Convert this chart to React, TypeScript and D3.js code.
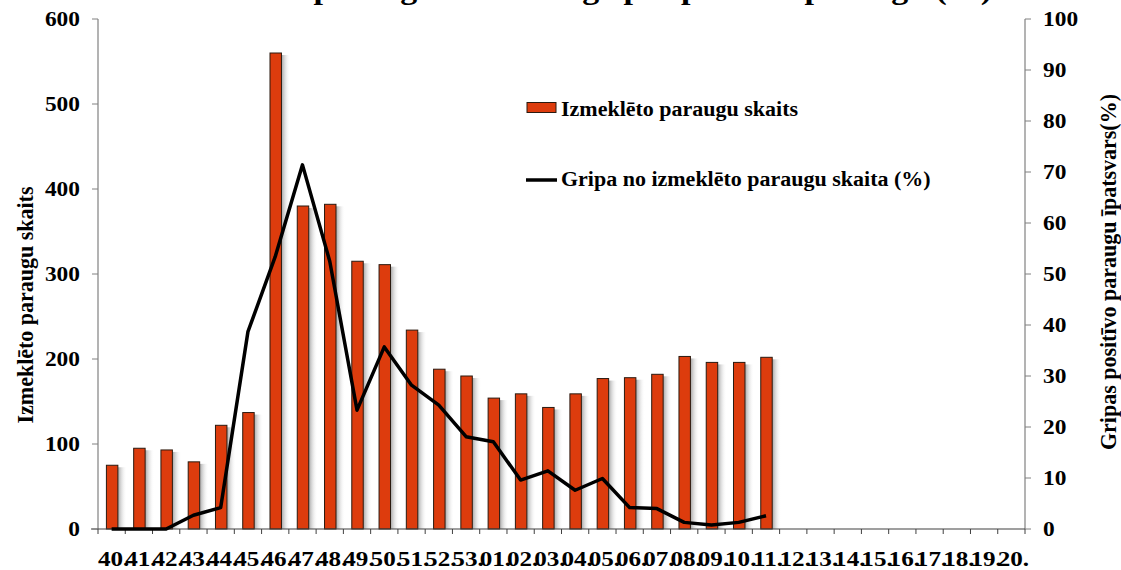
import React from "react";
import * as d3 from "d3";

const categories = ["40.","41.","42.","43.","44.","45.","46.","47.","48.","49.","50.","51.","52.","53.","01.","02.","03.","04.","05.","06.","07.","08.","09.","10.","11.","12.","13.","14.","15.","16.","17.","18.","19.","20."];
const samples = [75,95,93,79,122,137,560,380,382,315,311,234,188,180,154,159,143,159,177,178,182,203,196,196,202];
const fluPct = [0,0,0,2.7,4.2,38.7,53.4,71.4,52.5,23.3,35.7,28.2,24.3,18.1,17.1,9.6,11.4,7.6,9.9,4.2,4.0,1.3,0.8,1.3,2.6];
const leftTicks = [0,100,200,300,400,500,600];
const rightTicks = [0,10,20,30,40,50,60,70,80,90,100];

const W = 1121, H = 570;
const L = 98, R = 1025, T = 19, B = 529;
const FONT = "'Liberation Serif', 'Times New Roman', serif";
const BAR = "#DD3C0D";
const SX = 1.17;

function Txt(props: { x: number; y: number; size: number; sx?: number; sy?: number; anchor?: string; rot?: number; children: React.ReactNode }) {
  const { x, y, size, sx = SX, sy = 1, anchor = "start", rot, children } = props;
  const tr = `translate(${x},${y})${rot ? ` rotate(${rot})` : ""} scale(${sx},${sy})`;
  return (
    <text transform={tr} textAnchor={anchor} fontSize={size} fontWeight="bold" fill="#000">{children}</text>
  );
}

export default function App() {
  const x = d3.scaleBand<string>().domain(categories).range([L, R]).paddingInner(0).paddingOuter(0);
  const yL = d3.scaleLinear().domain([0, 600]).range([B, T]);
  const yR = d3.scaleLinear().domain([0, 100]).range([B, T]);
  const bw = x.bandwidth() * 0.42;
  const cx = (i: number) => (x(categories[i]) as number) + x.bandwidth() / 2;
  const line = d3.line<number>().x((_, i) => cx(i)).y(d => yR(d));

  return (
    <svg width={W} height={H} style={{ position: "absolute", left: 0, top: 0, background: "#fff" }} fontFamily={FONT}>
      <defs>
        <linearGradient id="shadow" x1="0" x2="1" y1="0" y2="0">
          <stop offset="0" stopColor="#9a9a9a" stopOpacity="0.9" />
          <stop offset="1" stopColor="#ffffff" stopOpacity="0" />
        </linearGradient>
      </defs>
      <rect x={0} y={0} width={W} height={H} fill="#fff" />
      <Txt x={992} y={-1} size={29} anchor="end">Izmeklēto paraugu skaits un gripas pozitīvo paraugu (%)</Txt>

      {/* bars */}
      {samples.map((v, i) => {
        const x0 = cx(i) - bw / 2 + 0.5;
        return (
          <g key={i}>
            <rect x={x0 + bw} y={yL(v) + 2} width={9} height={B - yL(v) - 2} fill="url(#shadow)" />
            <rect x={x0} y={yL(v)} width={bw} height={B - yL(v)} fill={BAR} stroke="#2a1a10" strokeWidth={1} />
          </g>
        );
      })}

      {/* axes */}
      <line x1={L} x2={L} y1={T} y2={B} stroke="#808080" strokeWidth={1.2} />
      <line x1={R} x2={R} y1={T} y2={B} stroke="#808080" strokeWidth={1.2} />
      <line x1={L - 7} x2={R} y1={B} y2={B} stroke="#404040" strokeWidth={1.2} />
      {leftTicks.map(t => (
        <g key={"l" + t}>
          <line x1={L - 6} x2={L} y1={yL(t)} y2={yL(t)} stroke="#808080" />
          <Txt x={80} y={yL(t) + 7} size={20} anchor="end">{t}</Txt>
        </g>
      ))}
      {rightTicks.map(t => (
        <g key={"r" + t}>
          <line x1={R} x2={R + 6} y1={yR(t)} y2={yR(t)} stroke="#808080" />
          <Txt x={1043} y={yR(t) + 7} size={20} anchor="start">{t}</Txt>
        </g>
      ))}
      {categories.map((c, i) => (
        <line key={"t" + i} x1={x(c) as number} x2={x(c) as number} y1={B} y2={B + 5} stroke="#404040" />
      ))}
      <line x1={R} x2={R} y1={B} y2={B + 5} stroke="#404040" />
      {categories.map((c, i) => (
        <Txt key={"c" + i} x={cx(i) + 2} y={566} size={21.5} anchor="middle">{c}</Txt>
      ))}

      {/* line */}
      <path d={line(fluPct) || ""} fill="none" stroke="#000" strokeWidth={3.5} strokeLinejoin="round" />

      {/* axis titles */}
      <Txt x={33} y={305} size={22} sx={1} sy={1.08} rot={-90} anchor="middle">Izmeklēto paraugu skaits</Txt>
      <Txt x={1116} y={272} size={22} sx={1} sy={1.08} rot={-90} anchor="middle">Gripas positīvo paraugu īpatsvars(%)</Txt>

      {/* legend */}
      <rect x={527} y={102.5} width={29} height={10} fill={BAR} stroke="#2a1a10" strokeWidth={1} />
      <Txt x={561} y={116} size={20} sx={1.1}>Izmeklēto paraugu skaits</Txt>
      <line x1={526} x2={557} y1={180} y2={180} stroke="#000" strokeWidth={3.5} />
      <Txt x={561} y={186} size={20} sx={1.1}>Gripa no izmeklēto paraugu skaita (%)</Txt>
    </svg>
  );
}
